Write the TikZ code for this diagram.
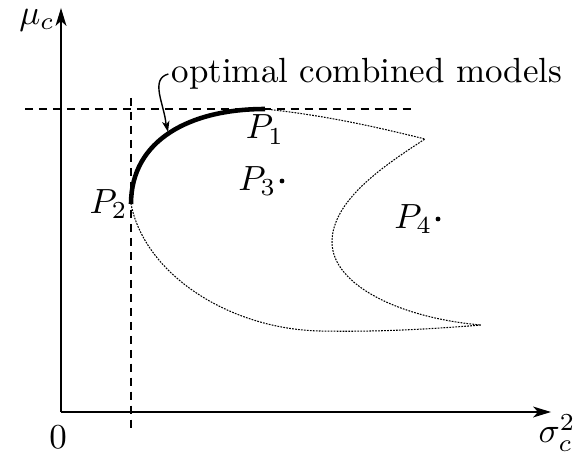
\documentclass[tikz,border=0pt]{standalone}
\usepackage{tikz}
\usepackage{amssymb}
\usepackage{amsfonts}
\usepackage{xcolor}

\begin{document}
\begin{tikzpicture}[x=0.286pt,y=0.286pt,yscale=-1,xscale=1,
  axis/.style={line width=0.85pt},
  guide/.style={line width=0.4pt, dash pattern=on 2.3pt off 1.7pt},
  region/.style={line width=0.3pt, dash pattern=on 0.5pt off 0.35pt},
  front/.style={line width=1.3pt},
  pointdot/.style={circle, fill, inner sep=0pt, minimum size=1.4pt}]
\useasboundingbox (0,0) rectangle (577,453);

% Named points
\coordinate (O) at (61,412);
\coordinate (ytip) at (61,8);
\coordinate (ybase) at (61,20);
\coordinate (xtip) at (551,412);
\coordinate (xbase) at (539,412);
\coordinate (hL) at (25,109);
\coordinate (hR) at (413,109);
\coordinate (vT) at (131,98);
\coordinate (vB) at (131,433);
\coordinate (P1) at (265,109);
\coordinate (P2) at (131,204);
\coordinate (C1) at (425,139);
\coordinate (L1) at (332,242);
\coordinate (T1) at (481,325);
\coordinate (B1) at (320,331);
\coordinate (opt) at (168,132);
\coordinate (optb) at (166,124);

%Straight Lines (axes)
\draw [axis] (O) -- (ybase) ;
\draw [shift={(ytip)}, rotate = 90] [fill={rgb, 255:red, 0; green, 0; blue, 0 }  ][line width=0.08]  [draw opacity=0] (18,-5.5) -- (0,0) -- (18,5.5) -- (13,0) -- cycle    ;
\draw [axis] (O) -- (xbase) ;
\draw [shift={(xtip)}, rotate = 180] [fill={rgb, 255:red, 0; green, 0; blue, 0 }  ][line width=0.08]  [draw opacity=0] (18,-5.5) -- (0,0) -- (18,5.5) -- (13,0) -- cycle    ;

%Straight Lines (dashed guides)
\draw [guide] (hL) -- (hR) ;
\draw [guide] (vT) -- (vB) ;

%Curve Lines (region boundary)
\draw [region] (P1) .. controls (330,116) and (380,128) .. (C1)
  .. controls (385,165) and (332,200) .. (L1)
  .. controls (332,285) and (400,318) .. (T1)
  .. controls (420,330) and (370,332) .. (B1)
  .. controls (230,329) and (145,275) .. (P2) ;

%Curve Lines (optimal front)
\draw [front] (P2) .. controls (131,140) and (190,109) .. (P1) ;

% Text Node
\draw (367,74) node (lbl) [inner sep=0.75pt] {optimal combined models};
%Curve Lines (annotation)
\draw [line width=0.4pt] (lbl.west) to[out=165,in=265] (optb) ;
\draw [shift={(opt)}, rotate = 258] [fill={rgb, 255:red, 0; green, 0; blue, 0 }  ][line width=0.08]  [draw opacity=0] (11,-3.8) -- (0,0) -- (11,3.8) -- (8,0) -- cycle    ;

% Points
\draw (282,181) node (p3) [pointdot] {};
\draw (438,219) node (p4) [pointdot] {};

% Text Node
\draw (P1) node (p1lbl) [anchor=north, inner sep=1.5pt] {$P_1$};
% Text Node
\draw (P2) node (p2lbl) [anchor=east, inner sep=0.75pt] {$P_2$};
% Text Node
\draw (p3.west) node (p3lbl) [anchor=east, inner sep=0.5pt] {$P_3$};
% Text Node
\draw (p4.west) node (p4lbl) [anchor=east, inner sep=0.5pt] {$P_4$};
% Text Node
\draw (37,20) node (ylbl) {$\mu_c$};
% Text Node
\draw (58,437) node (zero) {$0$};
% Text Node
\draw (557,433) node (xlbl) {$\sigma_c^2$};

\end{tikzpicture}
\end{document}
